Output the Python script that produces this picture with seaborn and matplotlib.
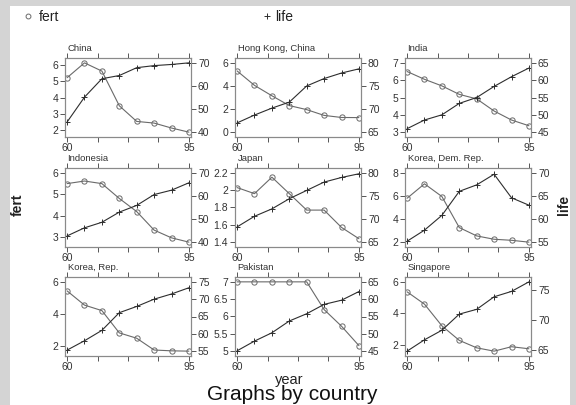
import numpy as np
import pandas as pd
import matplotlib
matplotlib.use("Agg")
import matplotlib.pyplot as plt
import seaborn as sns
from matplotlib.patches import Rectangle
from matplotlib.lines import Line2D

# ---------------- data ----------------
years = [60, 65, 70, 75, 80, 85, 90, 95]
countries = ["China", "Hong Kong, China", "India",
             "Indonesia", "Japan", "Korea, Dem. Rep.",
             "Korea, Rep.", "Pakistan", "Singapore"]

fert_china = [5.2, 6.1, 5.6, 3.5, 2.55, 2.45, 2.15, 1.9]
life_china = [44.4, 55.2, 63.2, 64.6, 68.0, 68.9, 69.4, 70.1]
fert_hk = [5.3, 4.05, 3.15, 2.3, 1.95, 1.45, 1.27, 1.26]
life_hk = [67.0, 68.7, 70.2, 71.5, 75.0, 76.6, 77.8, 78.7]
fert_india = [6.5, 6.05, 5.67, 5.18, 4.92, 4.22, 3.7, 3.37]
life_india = [46.0, 48.5, 50.0, 53.3, 55.0, 58.2, 61.0, 63.5]
fert_indonesia = [5.5, 5.62, 5.5, 4.81, 4.2, 3.34, 2.98, 2.78]
life_indonesia = [42.7, 46.2, 48.6, 53.0, 55.9, 60.6, 62.5, 65.7]
fert_japan = [2.03, 1.96, 2.15, 1.96, 1.77, 1.77, 1.57, 1.44]
life_japan = [68.3, 70.6, 72.2, 74.4, 76.2, 78.0, 79.0, 79.8]
fert_kdr = [5.8, 7.05, 5.95, 3.26, 2.54, 2.25, 2.16, 2.0]
life_kdr = [55.2, 57.6, 60.8, 66.0, 67.4, 69.7, 64.6, 63.0]
fert_kr = [5.44, 4.56, 4.22, 2.84, 2.51, 1.78, 1.73, 1.71]
life_kr = [55.3, 58.0, 61.0, 66.1, 67.9, 70.0, 71.5, 73.3]
fert_pakistan = [7.0, 7.0, 7.0, 7.0, 7.0, 6.2, 5.72, 5.16]
life_pakistan = [45.1, 47.9, 50.3, 53.7, 55.8, 58.5, 59.7, 62.2]
fert_singapore = [5.37, 4.59, 3.22, 2.3, 1.83, 1.62, 1.9, 1.77]
life_singapore = [64.8, 66.7, 68.3, 71.0, 71.8, 73.9, 74.8, 76.4]

fert_all = [fert_china, fert_hk, fert_india, fert_indonesia, fert_japan,
            fert_kdr, fert_kr, fert_pakistan, fert_singapore]
life_all = [life_china, life_hk, life_india, life_indonesia, life_japan,
            life_kdr, life_kr, life_pakistan, life_singapore]

fert_ticks = [[2, 3, 4, 5, 6], [0, 2, 4, 6], [3, 4, 5, 6, 7],
              [3, 4, 5, 6], [1.4, 1.6, 1.8, 2, 2.2], [2, 4, 6, 8],
              [2, 4, 6], [5, 5.5, 6, 6.5, 7], [2, 4, 6]]
life_ticks = [[40, 50, 60, 70], [65, 70, 75, 80], [45, 50, 55, 60, 65],
              [40, 50, 60, 70], [65, 70, 75, 80], [55, 60, 65, 70],
              [55, 60, 65, 70, 75], [45, 50, 55, 60, 65], [65, 70, 75]]
x_ticks = [60, 68.75, 77.5, 86.25, 95]
x_ticklabels = ["60", "", "", "", "95"]

rows = []
for c, f, l in zip(countries, fert_all, life_all):
    for y, fv, lv in zip(years, f, l):
        rows.append({"country": c, "year": y, "fert": fv, "life": lv})
df = pd.DataFrame(rows)

# ---------------- style ----------------
sns.set_theme(style="white")
plt.rcParams["font.family"] = ["Liberation Sans", "DejaVu Sans"]

FERT_C = "#6a6a6a"
LIFE_C = "#2e2e2e"
SPINE_C = "#8a8a8a"
TEXT_C = "#333333"

W, H = 576, 405
fig = plt.figure(figsize=(W / 100, H / 100), dpi=100)
fig.patch.set_facecolor("#d4d4d4")
fig.patches.append(Rectangle((10 / W, 0), 560 / W, 1 - 6 / H,
                             transform=fig.transFigure, facecolor="white",
                             edgecolor="none", zorder=-10))

col_left = [65, 235, 405]
row_top = [58, 168, 277]
bw, bh = 126, 79


def fmt(t):
    return "{:g}".format(t)


def lims(vals, ticks, frac=0.07):
    lo = min(min(vals), ticks[0])
    hi = max(max(vals), ticks[-1])
    p = (hi - lo) * frac
    return lo - p, hi + p


for i, c in enumerate(countries):
    r, k = divmod(i, 3)
    ax = fig.add_axes([col_left[k] / W, 1 - (row_top[r] + bh) / H, bw / W, bh / H])
    ax.set_zorder(1)
    ax.set_facecolor("white")
    sub = df[df["country"] == c]
    sns.lineplot(data=sub, x="year", y="fert", ax=ax, color=FERT_C,
                 linewidth=0.8, marker="o", markersize=3.8,
                 markerfacecolor="none", markeredgecolor=FERT_C,
                 markeredgewidth=0.7)
    ax2 = ax.twinx()
    ax2.set_zorder(2)
    ax2.patch.set_visible(False)
    sns.lineplot(data=sub, x="year", y="life", ax=ax2, color=LIFE_C,
                 linewidth=0.8, marker="+", markersize=4.5,
                 markeredgecolor=LIFE_C, markeredgewidth=0.7)
    ax.set_xlim(59.4, 95.6)
    ax.set_ylim(*lims(fert_all[i], fert_ticks[i]))
    ax2.set_ylim(*lims(life_all[i], life_ticks[i]))
    ax.set_xticks(x_ticks)
    ax.set_xticklabels(x_ticklabels)
    ax.set_yticks(fert_ticks[i])
    ax.set_yticklabels([fmt(t) for t in fert_ticks[i]])
    ax2.set_yticks(life_ticks[i])
    ax2.set_yticklabels([fmt(t) for t in life_ticks[i]])
    for a in (ax, ax2):
        a.set_xlabel("")
        a.set_ylabel("")
        a.grid(False)
        for s in a.spines.values():
            s.set_color(SPINE_C)
            s.set_linewidth(0.8)
    ax.tick_params(axis="x", top=True, bottom=True, direction="out",
                   length=3.5, width=0.7, color="#555555", labelsize=7.5,
                   labelcolor=TEXT_C, pad=1)
    ax.tick_params(axis="y", left=True, direction="out", length=3.5,
                   width=0.7, color="#555555", labelsize=7.5,
                   labelcolor=TEXT_C, pad=1.5)
    ax2.tick_params(axis="y", right=True, direction="out", length=3.5,
                    width=0.7, color="#555555", labelsize=7.5,
                    labelcolor=TEXT_C, pad=1.5)
    ax.text(0.02, 1.065, c, transform=ax.transAxes, ha="left", va="bottom",
            fontsize=6.8, color=TEXT_C)

# legend (two single-entry legends, as in the original layout)
h1 = Line2D([], [], linestyle="none", marker="o", markersize=3.5,
            markerfacecolor="none", markeredgecolor=FERT_C, markeredgewidth=0.7)
h2 = Line2D([], [], linestyle="none", marker="+", markersize=4.5,
            markeredgecolor=LIFE_C, markeredgewidth=0.7)
fig.legend([h1], ["fert"], loc="center left", bbox_to_anchor=(22 / W, 1 - 17 / H),
           frameon=False, fontsize=10, handlelength=0.8, handletextpad=0.4,
           borderaxespad=0, borderpad=0, labelcolor="#222222")
fig.legend([h2], ["life"], loc="center left", bbox_to_anchor=(261 / W, 1 - 17 / H),
           frameon=False, fontsize=10, handlelength=0.8, handletextpad=0.25,
           borderaxespad=0, borderpad=0, labelcolor="#222222")

fig.text(18 / W, 1 - 205 / H, "fert", rotation=90, ha="center", va="center",
         fontsize=10, color="#222222", fontweight="bold")
fig.text(564 / W, 1 - 205 / H, "life", rotation=90, ha="center", va="center",
         fontsize=10, color="#222222", fontweight="bold")
fig.text(289 / W, 1 - 380 / H, "year", ha="center", va="center",
         fontsize=10.5, color="#222222")
fig.text(292 / W, 1 - 395 / H, "Graphs by country", ha="center", va="center",
         fontsize=15, color="#111111")

fig.savefig("out.png", dpi=100, facecolor=fig.get_facecolor())
